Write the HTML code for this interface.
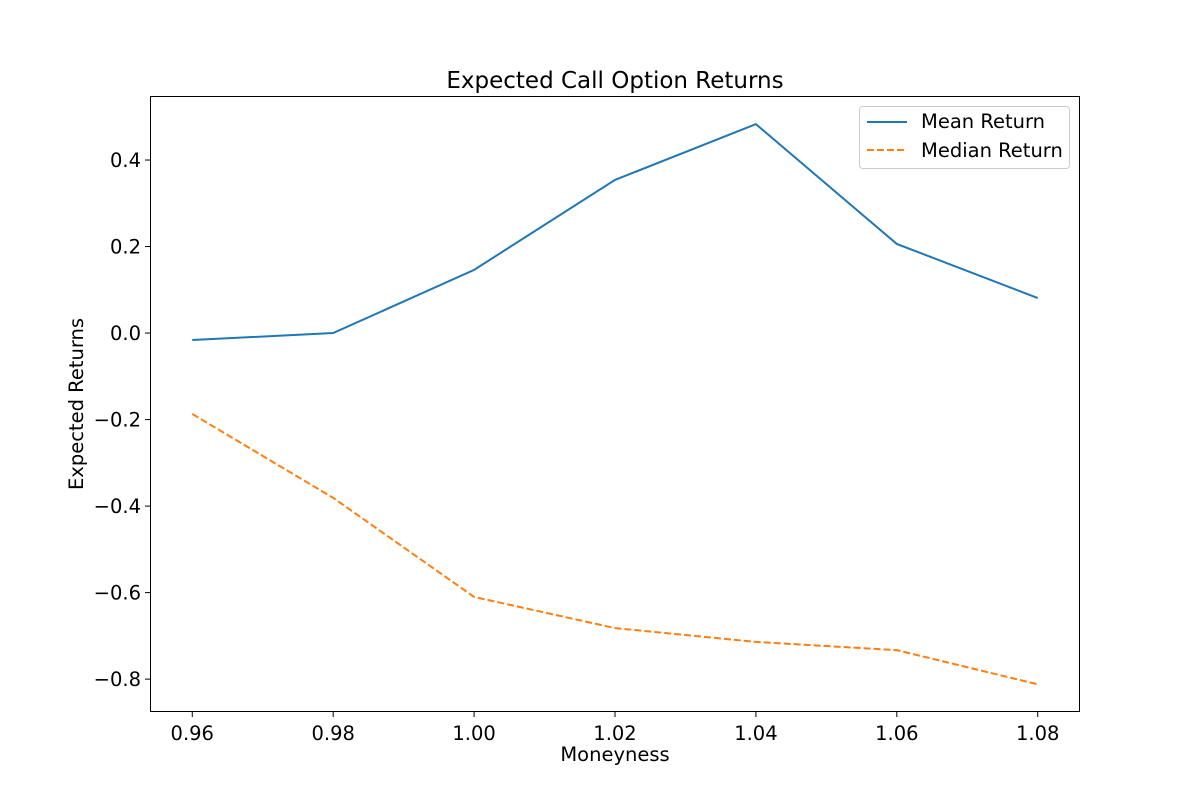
<!DOCTYPE html>
<html><head><meta charset="utf-8"><style>
body{margin:0;background:#fff;}
svg text{font-family:"DejaVu Sans","Liberation Sans",sans-serif;fill:#000;}
</style></head><body>
<svg id="chart" width="1200" height="800">
<rect x="0" y="0" width="1200" height="800" fill="#fff"/>
<text x="615" y="88" font-size="23" text-anchor="middle">Expected Call Option Returns</text>
<g id="plot"></g>
<text x="615" y="761" font-size="19.5" text-anchor="middle">Moneyness</text>
<text transform="translate(83,404) rotate(-90)" font-size="19.5" text-anchor="middle">Expected Returns</text>
<g>
<rect x="859.5" y="106.5" width="210" height="62" rx="3" fill="#fff" stroke="#ccc"/>
<line x1="867" y1="122" x2="907" y2="122" stroke="#1f77b4" stroke-width="2"/>
<text x="921" y="128" font-size="19.5">Mean Return</text>
<line x1="867" y1="150" x2="907" y2="150" stroke="#ff7f0e" stroke-width="2" stroke-dasharray="7,3"/>
<text x="921" y="157" font-size="19.5">Median Return</text>
</g>
</svg>
<script>
const categories=[0.96,0.98,1.00,1.02,1.04,1.06,1.08];
const meanValues=[-0.016,0.0,0.146,0.354,0.483,0.206,0.081];
const medianValues=[-0.187,-0.381,-0.610,-0.682,-0.714,-0.733,-0.812];
const xTicks=["0.96","0.98","1.00","1.02","1.04","1.06","1.08"];
const yTicks=[-0.8,-0.6,-0.4,-0.2,0.0,0.2,0.4];
const L=150,R=1080,T=96,B=712;
const xmin=0.954,xmax=1.086,ymin=-0.876,ymax=0.548;
const xs=v=>L+(v-xmin)/(xmax-xmin)*(R-L);
const ys=v=>B-(v-ymin)/(ymax-ymin)*(B-T);
const NS="http://www.w3.org/2000/svg";
const g=document.getElementById('plot');
function mk(t,a){const e=document.createElementNS(NS,t);for(const k in a)e.setAttribute(k,a[k]);g.appendChild(e);return e;}
xTicks.forEach(t=>{const x=xs(parseFloat(t));
const l=mk('line',{x1:x,x2:x,y1:B,y2:B+5,stroke:'#000'});


const tx=mk('text',{x:x,y:B+28,'font-size':19.5,'text-anchor':'middle'});tx.textContent=t;

});
yTicks.forEach(v=>{const y=ys(v);
const l=mk('line',{x1:L-5,x2:L,y1:y,y2:y,stroke:'#000'});


const tx=mk('text',{x:L-9,y:y+7,'font-size':19.5,'text-anchor':'end'});tx.textContent=(v<0?'\u2212':'')+Math.abs(v).toFixed(1);

});
const pts=a=>a.map((v,i)=>xs(categories[i])+','+ys(v)).join(' ');
const m=mk('polyline',{points:pts(meanValues),fill:'none',stroke:'#1f77b4','stroke-width':2});


const d=mk('polyline',{points:pts(medianValues),fill:'none',stroke:'#ff7f0e','stroke-width':2,'stroke-dasharray':'7,3'});


const f=mk('rect',{x:L+0.5,y:T+0.5,width:R-L-1,height:B-T-1,fill:'none',stroke:'#000','stroke-width':1});


</script>
</body></html>
